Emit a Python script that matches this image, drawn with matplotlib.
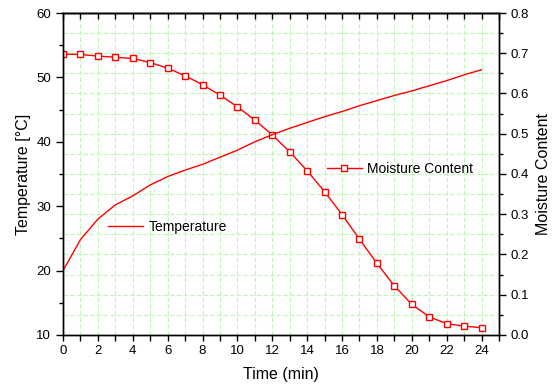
import matplotlib; matplotlib.use('Agg')
import numpy as np
from matplotlib import pyplot as plt
from matplotlib.ticker import MultipleLocator

plt.rcParams.update({
    'font.family': ['Liberation Sans', 'DejaVu Sans'],
    'font.size': 9.5,
    'axes.linewidth': 1.0,
})

RED = '#ff0000'
GRID = '#bff5b5'

time_min = list(range(25))
temperature = [20.0, 24.8, 28.0, 30.2, 31.6, 33.3, 34.6, 35.6, 36.5, 37.6,
               38.7, 40.0, 41.1, 42.1, 43.0, 43.9, 44.7, 45.6, 46.4, 47.2,
               47.9, 48.7, 49.5, 50.4, 51.2]
moisture = [0.698, 0.697, 0.693, 0.690, 0.687, 0.677, 0.663, 0.644, 0.622,
            0.596, 0.567, 0.534, 0.497, 0.455, 0.408, 0.356, 0.299, 0.238,
            0.178, 0.122, 0.076, 0.045, 0.028, 0.022, 0.018]

fig = plt.figure(figsize=(5.58, 3.87), dpi=100)
ax = fig.add_axes([0.1129, 0.1344, 0.7814, 0.832])
ax2 = ax.twinx()
# temperature axis on top so its line is not covered by the grid
ax.set_zorder(ax2.get_zorder() + 1)
ax.patch.set_visible(False)

l1, = ax.plot(time_min, temperature, color=RED, lw=1.0, label='Temperature')
l2, = ax2.plot(time_min, moisture, color=RED, lw=1.0, marker='s', ms=4.5,
               mfc='white', mec=RED, mew=1.0, label='Moisture Content')

ax.set_xlim(0, 25)
ax.set_ylim(10, 60)
ax2.set_ylim(0, 0.8)

ax.set_xticks(np.arange(0, 25, 2))
ax.xaxis.set_minor_locator(MultipleLocator(1))
ax.yaxis.set_major_locator(MultipleLocator(10))
ax.yaxis.set_minor_locator(MultipleLocator(5))
ax2.yaxis.set_major_locator(MultipleLocator(0.1))
ax2.yaxis.set_minor_locator(MultipleLocator(0.05))
ax2.yaxis.set_major_formatter(plt.FormatStrFormatter('%.1f'))

ax.tick_params(axis='x', which='both', direction='out', length=4, width=1, top=False)
ax.tick_params(axis='y', which='major', direction='out', length=5, width=1)
ax.tick_params(axis='y', which='minor', direction='out', length=3, width=1)
ax2.tick_params(axis='y', which='major', direction='out', length=5, width=1)
ax2.tick_params(axis='y', which='minor', direction='out', length=3, width=1)

# top ticks point inward
top = ax.secondary_xaxis('top')
top.set_xticks(np.arange(0, 25, 2))
top.xaxis.set_minor_locator(MultipleLocator(1))
top.tick_params(axis='x', which='both', direction='in', length=4, width=1,
                labeltop=False)

# grid: vertical every minute, horizontal every 0.05 of moisture (behind data)
ax2.xaxis.set_visible(True)
ax2.set_xticks(np.arange(0, 25, 2))
ax2.xaxis.set_minor_locator(MultipleLocator(1))
ax2.tick_params(axis='x', which='both', bottom=False, top=False,
                labelbottom=False, labeltop=False)
ax2.grid(True, axis='both', which='both', color=GRID, lw=0.8, ls=(0, (4, 2)))
ax2.set_axisbelow(True)

ax.set_xlabel('Time (min)', fontsize=11.5, labelpad=7)
ax.set_ylabel('Temperature [°C]', fontsize=11.5, labelpad=4)
ax2.set_ylabel('Moisture Content', fontsize=11.5, labelpad=5)

fig.legend(handles=[l1], loc='center left', frameon=False,
           bbox_to_anchor=(108 / 558, 1 - 227 / 387), borderpad=0,
           borderaxespad=0, handlelength=2.5, handletextpad=0.4, fontsize=10)
fig.legend(handles=[l2], loc='center left', frameon=False,
           bbox_to_anchor=(327 / 558, 1 - 169 / 387), borderpad=0,
           borderaxespad=0, handlelength=2.5, handletextpad=0.4, fontsize=10)

plt.savefig('out.png', dpi=100)
plt.close()
